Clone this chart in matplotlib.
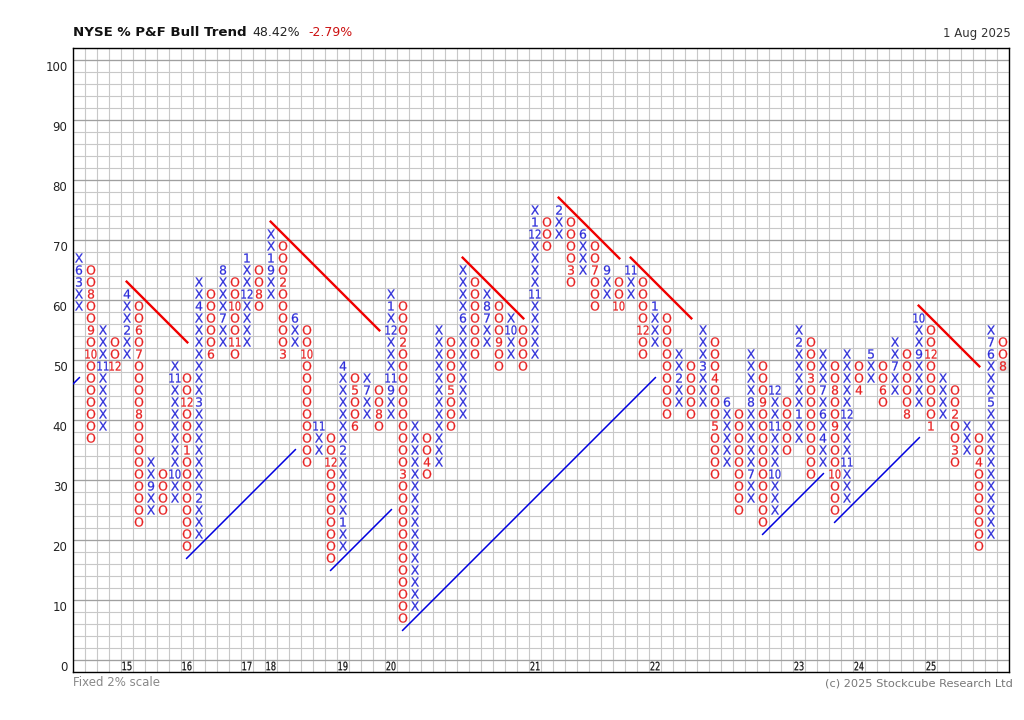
import numpy as np
import matplotlib
matplotlib.use('Agg')
import matplotlib.pyplot as plt
import matplotlib.transforms as mtransforms
from matplotlib.textpath import TextPath
from matplotlib.patches import PathPatch, Rectangle
from matplotlib.font_manager import FontProperties

# point & figure columns, 2% boxes. column 0 is X, then they alternate
col_low = [60, 38, 40, 50, 52, 24, 26, 26, 28, 20,
           22, 52, 54, 52, 54, 60, 62, 52, 54, 34,
           36, 18, 20, 40, 42, 40, 42, 8, 10, 32,
           34, 40, 42, 52, 54, 50, 52, 50, 52, 70,
           72, 64, 66, 60, 62, 60, 62, 52, 54, 42,
           44, 42, 44, 32, 34, 26, 28, 24, 26, 36,
           38, 32, 34, 26, 28, 46, 48, 44, 46, 42,
           44, 40, 42, 34, 36, 20, 22, 50]
col_high = [68, 66, 56, 54, 62, 60, 34, 32, 50, 48,
            64, 62, 66, 64, 68, 66, 72, 70, 58, 56,
            40, 38, 50, 48, 48, 46, 62, 60, 40, 38,
            56, 54, 66, 64, 62, 60, 58, 56, 76, 74,
            76, 74, 72, 70, 66, 64, 66, 64, 60, 58,
            52, 50, 56, 54, 44, 42, 52, 50, 46, 44,
            56, 54, 52, 50, 52, 50, 52, 50, 54, 52,
            58, 56, 48, 46, 40, 38, 56, 54]

# month numbers that take the place of a box
mark_col = [0, 0, 1, 1, 1, 2, 3, 4, 4, 5, 5, 5, 6, 8, 8, 9, 9, 10, 10, 10,
            11, 12, 12, 13, 13, 14, 14, 15, 16, 16, 17, 17, 18, 19, 20, 21,
            22, 22, 22, 23, 23, 24, 25, 26, 26, 26, 26, 27, 27, 29, 31, 32,
            34, 34, 35, 36, 38, 38, 38, 40, 41, 42, 43, 44, 45, 46, 47, 48,
            50, 52, 53, 53, 54, 56, 56, 57, 58, 58, 58, 60, 60, 61, 62, 62, 62,
            63, 63, 63, 64, 64, 65, 66, 67, 68, 69, 70, 70, 71, 71, 73, 73,
            75, 76, 76, 76, 77]
mark_val = [64, 66, 62, 56, 52, 50, 50, 56, 62, 56, 52, 42, 30, 32, 48, 44, 36, 28, 44, 60,
            52, 58, 66, 60, 54, 62, 68, 62, 66, 68, 64, 52, 58, 52, 40, 34,
            24, 36, 50, 46, 40, 46, 42, 46, 48, 56, 60, 54, 32, 34, 46, 58,
            58, 60, 54, 56, 62, 72, 74, 76, 66, 72, 66, 66, 60, 66, 56, 60,
            48, 50, 48, 40, 44, 32, 44, 44, 32, 40, 46, 42, 54, 48, 38, 42, 46,
            46, 40, 32, 34, 42, 46, 52, 46, 50, 42, 52, 58, 52, 40, 42, 36,
            34, 44, 52, 54, 50]
mark_txt = ['3', '6', '8', '9', '10', '11', '12', '2', '4', '6', '7', '8', '9', '10', '11', '12', '1', '2', '3', '4',
            '6', '7', '8', '10', '11', '12', '1', '8', '9', '1', '2', '3', '6', '10', '11', '12',
            '1', '2', '4', '5', '6', '7', '8', '9', '11', '12', '1', '2', '3', '4', '5', '6',
            '7', '8', '9', '10', '11', '12', '1', '2', '3', '6', '7', '9', '10', '11', '12', '1',
            '2', '3', '4', '5', '6', '7', '8', '9', '10', '11', '12', '1', '2', '3', '4', '6', '7',
            '8', '9', '10', '11', '12', '4', '5', '6', '7', '8', '9', '10', '12', '1', '2', '3',
            '4', '5', '6', '7', '8']

year_col = [4, 9, 14, 16, 22, 26, 38, 48, 60, 65, 71]
year_txt = ['15', '16', '17', '18', '19', '20', '21', '22', '23', '24', '25']

# trend lines: (col start, value start, col end, value end)
bull_lines = [(-3, 42, 0.03, 48.06), (8.97, 17.94, 18.03, 36.06), (20.97, 15.94, 26.03, 26.06),
              (26.97, 5.94, 48.03, 48.06), (56.97, 21.94, 62.03, 32.06), (62.97, 23.94, 70.03, 38.06)]
bear_lines = [(3.97, 64.06, 9.03, 53.94), (15.97, 74.06, 25.03, 55.94), (31.97, 68.06, 37.03, 57.94),
              (39.97, 78.06, 45.03, 67.94), (45.97, 68.06, 51.03, 57.94), (69.97, 60.06, 75.03, 49.94)]

title = 'NYSE % P&F Bull Trend'
last_value = '48.42%'
change = '-2.79%'
date_txt = '1 Aug 2025'

x_color = '#2b2bd9'
o_color = '#e82020'

W, H = 1024, 720
fig = plt.figure(figsize=(W / 100, H / 100), dpi=100)
ax = fig.add_axes([73 / W, (H - 672) / H, 936 / W, 624 / H])

n_cols = len(col_low)
ax.set_xlim(-0.5, n_cols - 0.5)
ax.set_ylim(-1, 103)

# grid: box boundaries, darker every 10%
ax.vlines(np.arange(-0.5, n_cols), -1, 103, color='#c8c8c8', lw=0.8, zorder=0)
ax.hlines(np.arange(-1, 104, 2), -0.5, n_cols - 0.5, color='#c8c8c8', lw=0.8, zorder=0)
ax.hlines(np.arange(1, 102, 10), -0.5, n_cols - 0.5, color='#a0a0a0', lw=0.9, zorder=0)

glyph_font = FontProperties(family='DejaVu Sans')
CAP = TextPath((0, 0), 'X', size=10, prop=glyph_font).get_extents().height


def glyph(x, y, s, color, cap_px=9.0, max_w=11.0):
    # draw text as a path so two digit months can be squeezed into a box
    path = TextPath((0, 0), s, size=10, prop=glyph_font)
    ext = path.get_extents()
    sy = cap_px / CAP
    sx = min(sy, max_w / ext.width)
    tr = (mtransforms.Affine2D()
          .translate(-(ext.x0 + ext.x1) / 2, -(ext.y0 + ext.y1) / 2)
          .scale(sx, sy)
          + mtransforms.ScaledTranslation(x, y, ax.transData))
    ax.add_patch(PathPatch(path, transform=tr, fc=color, ec=color, lw=0.15, zorder=3))


marks = {(c, v): t for c, v, t in zip(mark_col, mark_val, mark_txt)}

# current box is shaded
ax.add_patch(Rectangle((n_cols - 1.5, col_low[-1] - 1), 1, 2, fc='#e4e4e4', ec='none', zorder=1))

for i in range(n_cols):
    is_x = (i % 2 == 0)
    sym = 'X' if is_x else 'O'
    color = x_color if is_x else o_color
    for v in range(col_low[i], col_high[i] + 1, 2):
        glyph(i, v, marks.get((i, v), sym), color)

for c, t in zip(year_col, year_txt):
    glyph(c, 0, t, '#111111', cap_px=8.5, max_w=9.0)

for x0, y0, x1, y1 in bull_lines:
    ax.plot([x0, x1], [y0, y1], color='#0000e0', lw=1.1, zorder=4)
for x0, y0, x1, y1 in bear_lines:
    ax.plot([x0, x1], [y0, y1], color='#f00000', lw=1.7, zorder=4)

ax.set_xticks([])
ax.set_yticks(range(0, 101, 10))
ax.tick_params(axis='y', length=0, pad=4, labelsize=8.5, labelcolor='#222222')
for s in ax.spines.values():
    s.set_color('black')
    s.set_linewidth(1.0)

fig.text(73 / W, 1 - 33 / H, title, weight='bold', size=9.6, va='center', color='#111111')
fig.text(252 / W, 1 - 33 / H, last_value, size=9, va='center', color='#222222')
fig.text(308 / W, 1 - 33 / H, change, size=9, va='center', color='#cc1111')
fig.text(1011 / W, 1 - 33 / H, date_txt, size=8.5, va='center', ha='right', color='#333333')
fig.text(73 / W, 1 - 683 / H, 'Fixed 2% scale', size=8.5, va='center', color='#888888')
fig.text(1013 / W, 1 - 683 / H, '(c) 2025 Stockcube Research Ltd', size=8.2, va='center', ha='right',
         color='#777777')

plt.savefig('out.png', dpi=100)
